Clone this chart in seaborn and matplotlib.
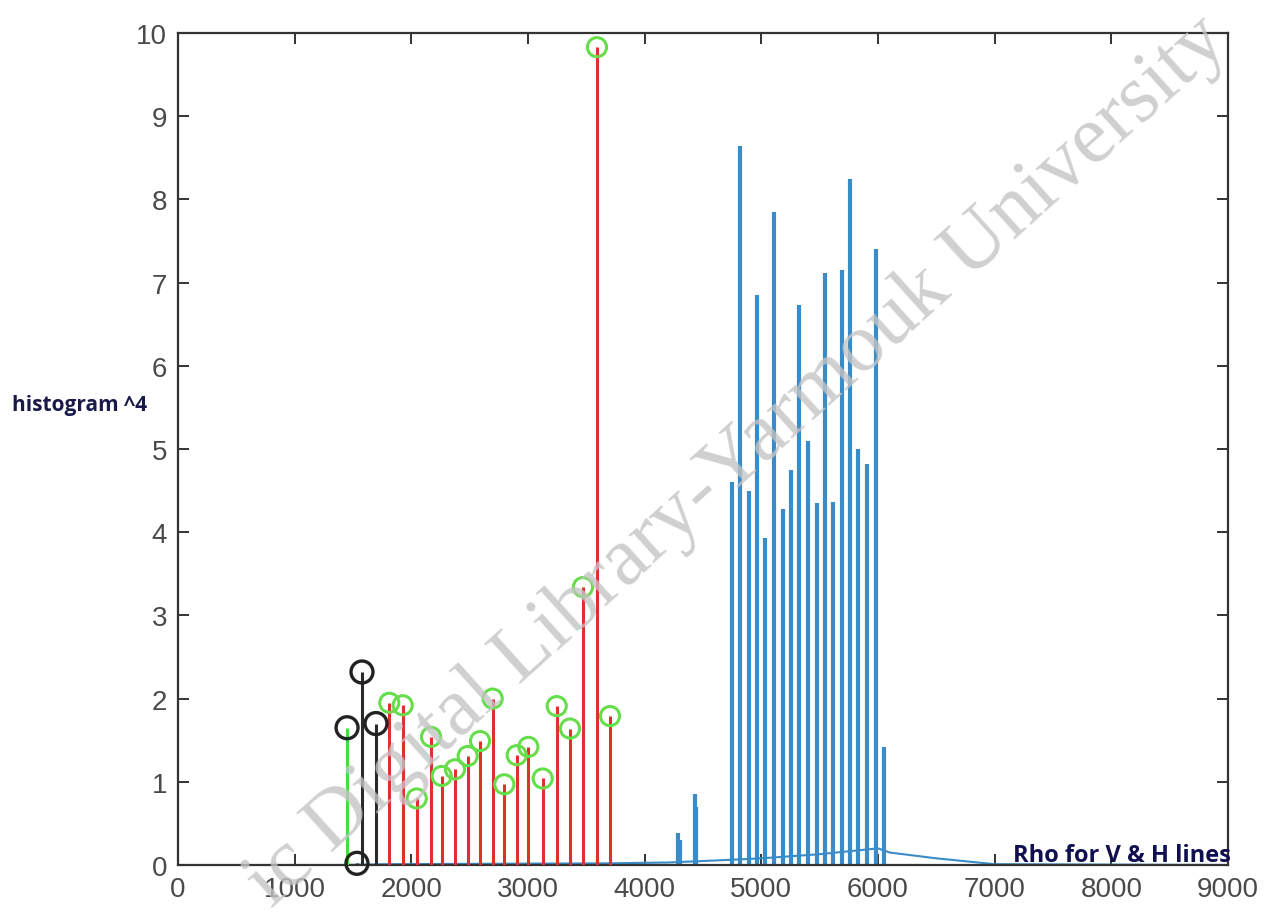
import matplotlib
matplotlib.use("Agg")
import matplotlib.pyplot as plt
import seaborn as sns
import pandas as pd
import numpy as np

# ---- data ----
# green stem (single)
green_rho = [1449]
green_val = [1.65]
# black stems
black_rho = [1534, 1577, 1697]
black_val = [0.02, 2.32, 1.70]
# red stems with green circles
red_rho = [1811, 1926, 2046, 2169, 2260, 2374, 2483, 2589, 2697, 2797,
           2903, 3003, 3126, 3246, 3360, 3471, 3591, 3703]
red_val = [1.95, 1.92, 0.80, 1.54, 1.07, 1.15, 1.31, 1.49, 2.00, 0.97,
           1.32, 1.42, 1.04, 1.91, 1.64, 3.34, 9.83, 1.79]
# blue histogram spikes
blue_rho = [4288, 4302, 4428, 4442, 4746, 4817, 4894, 4960, 5031, 5111, 5183,
            5252, 5323, 5398, 5474, 5543, 5611, 5689, 5760, 5831, 5909,
            5980, 6051]
blue_val = [0.38, 0.30, 0.85, 0.70, 4.60, 8.64, 4.50, 6.85, 3.93, 7.85, 4.28,
            4.75, 6.73, 5.10, 4.35, 7.12, 4.36, 7.15, 8.25, 5.00, 4.82,
            7.40, 1.42]
# blue baseline
base_rho = [0, 1400, 1800, 3700, 4200, 4700, 5000, 5500, 6000, 6100, 6500, 7000, 9000]
base_val = [0.0, 0.0, 0.01, 0.02, 0.03, 0.06, 0.08, 0.13, 0.20, 0.15, 0.08, 0.01, 0.0]

x_ticks = [0, 1000, 2000, 3000, 4000, 5000, 6000, 7000, 8000, 9000]
y_ticks = [0, 1, 2, 3, 4, 5, 6, 7, 8, 9, 10]

sns.set_style("ticks")
plt.rcParams['font.family'] = ['Liberation Sans', 'DejaVu Sans']

fig = plt.figure(figsize=(12.76, 9.2), dpi=100)
ax = fig.add_axes([0.1395, 0.0587, 0.8229, 0.9043])

blue = '#3a8cc8'
red = '#e0302e'
gcirc = '#66dd4a'

base_df = pd.DataFrame({'rho': base_rho, 'val': base_val})
sns.lineplot(data=base_df, x='rho', y='val', ax=ax, color=blue, lw=1.5, zorder=2)

ax.vlines(blue_rho, 0, blue_val, color=blue, lw=3.0, zorder=2)
ax.vlines(red_rho, 0, red_val, color=red, lw=2.2, zorder=3)
ax.vlines(green_rho, 0, green_val, color='#44dd44', lw=2.2, zorder=3)
ax.vlines(black_rho, 0, black_val, color='#2a2a2a', lw=2.2, zorder=3)

red_df = pd.DataFrame({'rho': red_rho, 'val': red_val})
sns.scatterplot(data=red_df, x='rho', y='val', ax=ax, s=190, marker='o',
                facecolors='none', edgecolor=gcirc, linewidth=2.2, zorder=4,
                clip_on=False)
bk_df = pd.DataFrame({'rho': green_rho + black_rho, 'val': green_val + black_val})
sns.scatterplot(data=bk_df, x='rho', y='val', ax=ax, s=250, marker='o',
                facecolors='none', edgecolor='#222222', linewidth=2.4, zorder=5,
                clip_on=False)

ax.set_xlim(0, 9000)
ax.set_ylim(0, 10)
ax.set_xticks(x_ticks)
ax.set_yticks(y_ticks)
ax.set_xticklabels([str(t) for t in x_ticks])
ax.set_yticklabels([str(t) for t in y_ticks])
ax.tick_params(axis='both', which='both', direction='in', length=8, width=1.4,
               top=True, right=True, labelsize=20, labelcolor='#4a4a4a',
               color='#333333', pad=8)
for s in ax.spines.values():
    s.set_visible(True)
    s.set_color('#333333')
    s.set_linewidth(1.6)

ax.set_xlabel('')
ax.set_ylabel('')
fig.text(12 / 1276, 1 - 405 / 920, 'histogram ^4', fontsize=15, fontweight='bold',
         color='#1a1a4a', ha='left', va='center', family=['Open Sans', 'DejaVu Sans'])
fig.text(1231 / 1276, 1 - 856 / 920, 'Rho for V & H lines', fontsize=17, fontweight='bold',
         color='#101050', ha='right', va='center', family=['Open Sans', 'DejaVu Sans'])

# watermark
fig.text(0.578, 0.498, 'ic Digital Library-Yarmouk University', fontsize=60,
         color='#c4c4c4', alpha=0.8, rotation=42, ha='center', va='center',
         family=['Liberation Serif', 'DejaVu Serif'], zorder=10)

fig.savefig('out.png', dpi=100)
